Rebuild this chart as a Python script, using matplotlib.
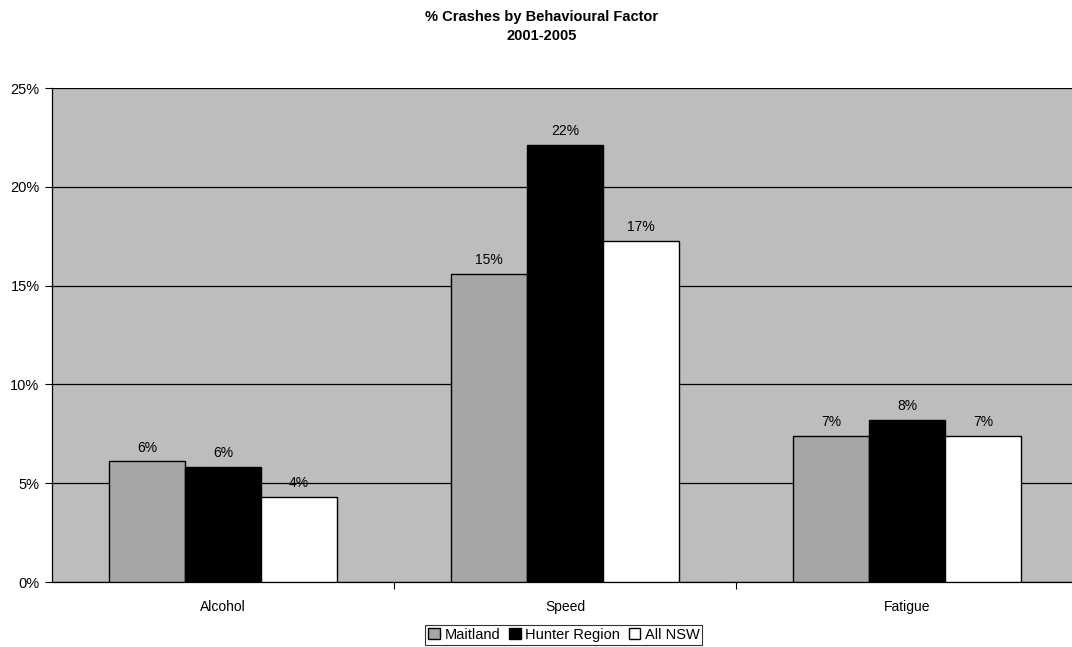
import matplotlib.pyplot as plt
import numpy as np

plt.rcParams['font.family'] = ['Liberation Sans', 'DejaVu Sans']

categories = ['Alcohol', 'Speed', 'Fatigue']
series_names = ['Maitland', 'Hunter Region', 'All NSW']
maitland = [6.1, 15.6, 7.4]
hunter = [5.8, 22.1, 8.2]
all_nsw = [4.3, 17.25, 7.4]
value_labels = [['6%', '15%', '7%'],
                ['6%', '22%', '8%'],
                ['4%', '17%', '7%']]
yticks = [0, 5, 10, 15, 20, 25]

fig = plt.figure(figsize=(10.72, 6.47), dpi=100)
ax = fig.add_axes([52 / 1072, 65 / 647, 1026 / 1072, 494 / 647])
ax.set_facecolor('#bdbdbd')

x = np.arange(len(categories))
width = 0.222
colors = ['#a6a6a6', '#000000', '#ffffff']
for i, (vals, name, col) in enumerate(zip([maitland, hunter, all_nsw], series_names, colors)):
    pos = x + (i - 1) * width
    ax.bar(pos, vals, width, color=col, edgecolor='black', linewidth=1.0,
           label=name, zorder=3)
    for p, v, lab in zip(pos, vals, value_labels[i]):
        ax.text(p, v + 0.35, lab, ha='center', va='bottom', fontsize=10, zorder=4)

ax.set_xlim(-0.5, 2.5)
ax.set_ylim(0, 25)
ax.set_yticks(yticks)
ax.set_yticklabels([f'{t}%' for t in yticks], fontsize=10.5)
ax.yaxis.grid(True, color='black', linewidth=0.9, zorder=1)
ax.tick_params(axis='y', length=5, width=0.8, pad=4)

ax.set_xticks(x)
ax.set_xticklabels(categories, fontsize=10)
ax.tick_params(axis='x', length=0, pad=13)
ax.set_xticks([0.5, 1.5], minor=True)
ax.tick_params(axis='x', which='minor', length=5, width=0.8)

for s in ['top', 'right']:
    ax.spines[s].set_visible(False)
ax.spines['left'].set_linewidth(0.9)
ax.spines['bottom'].set_linewidth(0.9)

fig.text(0.505, 0.984, '% Crashes by Behavioural Factor\n2001-2005', ha='center', va='top',
         fontsize=10.5, fontweight='bold', linespacing=1.4)

leg = fig.legend(loc='upper center', bbox_to_anchor=(0.526, 22 / 647), ncol=3, fontsize=10.5,
                 frameon=True, fancybox=False, edgecolor='black', handlelength=0.8,
                 handleheight=0.8, handletextpad=0.3, columnspacing=0.6,
                 borderpad=0.2, borderaxespad=0.0)
leg.get_frame().set_linewidth(0.8)

fig.savefig('out.png', dpi=100, facecolor='white')
